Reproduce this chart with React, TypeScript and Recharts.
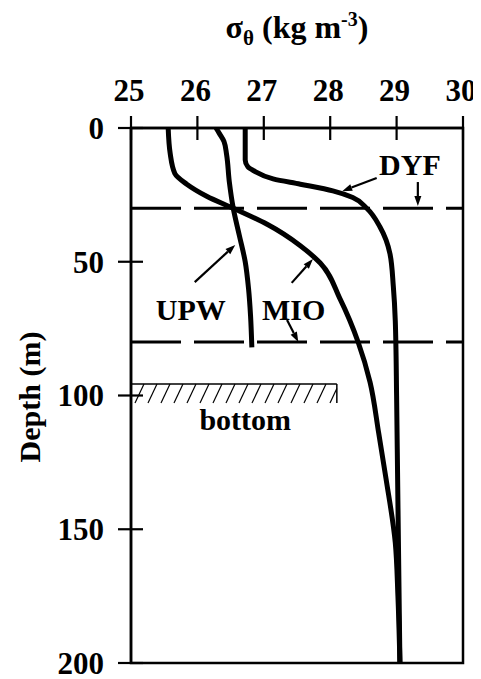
import React from 'react';
import { LineChart, Line, XAxis, YAxis, ReferenceLine, ReferenceArea, ReferenceDot, Label } from 'recharts';

const xTicks = [25, 26, 27, 28, 29, 30];
const yTicks = [0, 50, 100, 150, 200];

const mioDepth = [0, 9.5, 17, 21, 25.5, 30, 36, 44, 50.5, 64, 80, 95, 114, 131, 155, 175, 200];
const mioSigma = [25.56, 25.59, 25.66, 25.84, 26.14, 26.54, 27.05, 27.55, 27.85, 28.15, 28.42, 28.6, 28.73, 28.84, 28.98, 29.02, 29.05];

const upwDepth = [0, 2, 5, 10, 20, 30, 40, 50, 60, 70, 82];
const upwSigma = [26.28, 26.33, 26.4, 26.44, 26.48, 26.54, 26.63, 26.72, 26.77, 26.8, 26.82];

const dyfDepth = [0, 12, 14.5, 16, 19, 21, 23.5, 26, 30, 37, 47, 59, 72, 100, 120, 200];
const dyfSigma = [26.72, 26.72, 26.76, 26.85, 27.14, 27.55, 28.04, 28.34, 28.55, 28.75, 28.9, 28.95, 28.98, 29.0, 29.01, 29.05];

const layerDepths = [30, 80];
const bottomBox = { x1: 25, x2: 28.1, y1: 95.7, y2: 102.8 };

const arrowFrom = [[28.7, 18.7], [29.32, 20.2], [25.96, 57.6], [27.42, 57.9], [27.35, 71.8]];
const arrowTo = [[28.18, 23.6], [29.32, 29.2], [26.57, 43.7], [27.74, 49.0], [27.52, 80]];

const labelTexts = ['DYF', 'UPW', 'MIO', 'bottom'];
const labelSigma = [29.2, 25.9, 27.45, 26.72];
const labelDepth = [17.6, 71.8, 71.8, 112.9];

const toPoints = (d: number[], s: number[]) => d.map((depth, i) => ({ depth, sigma: s[i] }));
const mio = toPoints(mioDepth, mioSigma);
const upw = toPoints(upwDepth, upwSigma);
const dyf = toPoints(dyfDepth, dyfSigma);

const FONT = '"Liberation Serif", "Times New Roman", serif';
const PLOT_TOP = 120;
const PLOT_LEFT = 123;

const TopTick = (props: any) => {
  const { x, payload } = props;
  return (
    <g>
      <line x1={x} x2={x} y1={PLOT_TOP - 12} y2={PLOT_TOP + 12} stroke="#000" strokeWidth={2.2} />
      <text x={x - 2} y={PLOT_TOP - 27} textAnchor="middle" fontFamily={FONT} fontWeight="bold" fontSize={31} fill="#000">
        {payload.value}
      </text>
    </g>
  );
};

const LeftTick = (props: any) => {
  const { y, payload } = props;
  return (
    <g>
      <line x1={PLOT_LEFT - 13} x2={PLOT_LEFT + 12} y1={y} y2={y} stroke="#000" strokeWidth={2.2} />
      <text x={PLOT_LEFT - 27} y={y} dy="0.35em" textAnchor="end" fontFamily={FONT} fontWeight="bold" fontSize={31} fill="#000">
        {payload.value}
      </text>
    </g>
  );
};

const ArrowShape = (p: any) => {
  const { x1, y1, x2, y2 } = p;
  const ang = Math.atan2(y2 - y1, x2 - x1);
  const L = 10;
  const W = 3.5;
  const bx = x2 - L * Math.cos(ang);
  const by = y2 - L * Math.sin(ang);
  const px = -Math.sin(ang) * W;
  const py = Math.cos(ang) * W;
  return (
    <g>
      <line x1={x1} y1={y1} x2={bx} y2={by} stroke="#000" strokeWidth={2.2} />
      <polygon points={`${x2},${y2} ${bx + px},${by + py} ${bx - px},${by - py}`} fill="#000" />
    </g>
  );
};

const HatchShape = (p: any) => {
  const { x, y, width, height } = p;
  const lines = [];
  const step = 13;
  const slant = 9;
  for (let i = x + 4; i < x + width; i += step) {
    let ex = i + slant;
    let ey = y;
    if (ex > x + width) {
      const t = (x + width - i) / slant;
      ex = x + width;
      ey = y + height - t * height;
    }
    lines.push(<line key={i} x1={i} y1={y + height} x2={ex} y2={ey} stroke="#000" strokeWidth={1.2} />);
  }
  return (
    <g>
      {lines}
      <line x1={x} x2={x + width} y1={y} y2={y} stroke="#000" strokeWidth={1.5} />
      <line x1={x + width} x2={x + width} y1={y} y2={y + height} stroke="#000" strokeWidth={1.5} />
    </g>
  );
};

const TextShape = (text: string) => (p: any) => (
  <text x={p.cx} y={p.cy} textAnchor="middle" fontFamily={FONT} fontWeight="bold" fontSize={30} fill="#000">
    {text}
  </text>
);

const TitleLabel = () => {
  const cx = PLOT_LEFT + 166;
  return (
    <text x={cx} y={30} textAnchor="middle" fontFamily={FONT} fontWeight="bold" fontSize={32} fill="#000">
      <tspan>σ</tspan>
      <tspan fontSize={21} dy={7}>θ</tspan>
      <tspan dy={-7}> (kg m</tspan>
      <tspan fontSize={20} dy={-12}>-3</tspan>
      <tspan dy={12}>)</tspan>
    </text>
  );
};

const DepthLabel = () => (
  <text
    x={21}
    y={389}
    transform="rotate(-90 21 389)"
    textAnchor="middle"
    dominantBaseline="central"
    fontFamily={FONT}
    fontWeight="bold"
    fontSize={30}
    fill="#000"
  >
    Depth (m)
  </text>
);

export default function App() {
  return (
    <div style={{ width: 473, height: 671 }}>
      <LineChart
        width={473}
        height={671}
        layout="vertical"
        margin={{ top: 60, right: 18, bottom: 16, left: 53 }}
        style={{ background: '#fff' }}
      >
        <XAxis
          type="number"
          dataKey="sigma"
          orientation="top"
          domain={[25, 30]}
          ticks={xTicks}
          height={60}
          axisLine={{ stroke: '#000', strokeWidth: 2.5 }}
          tickLine={false}
          tick={<TopTick />}
          allowDataOverflow
        >
          <Label content={<TitleLabel />} />
        </XAxis>
        <YAxis
          type="number"
          dataKey="depth"
          domain={[0, 200]}
          ticks={yTicks}
          width={70}
          axisLine={{ stroke: '#000', strokeWidth: 2.5 }}
          tickLine={false}
          tick={<LeftTick />}
          allowDataOverflow
        >
          <Label content={<DepthLabel />} />
        </YAxis>
        <ReferenceArea x1={25} x2={30} y1={0} y2={200} fill="none" stroke="#000" strokeWidth={2.5} ifOverflow="visible" />
        <ReferenceArea
          x1={bottomBox.x1}
          x2={bottomBox.x2}
          y1={bottomBox.y1}
          y2={bottomBox.y2}
          shape={HatchShape}
          ifOverflow="visible"
        />
        {layerDepths.map((d) => (
          <ReferenceLine key={d} y={d} stroke="#000" strokeWidth={3} strokeDasharray="50 13" ifOverflow="visible" />
        ))}
        <Line data={mio} dataKey="sigma" type="monotoneY" stroke="#000" strokeWidth={5} dot={false} isAnimationActive={false} />
        <Line data={upw} dataKey="sigma" type="monotoneY" stroke="#000" strokeWidth={5} dot={false} isAnimationActive={false} />
        <Line data={dyf} dataKey="sigma" type="monotoneY" stroke="#000" strokeWidth={5} dot={false} isAnimationActive={false} />
        {arrowFrom.map((f, i) => (
          <ReferenceLine
            key={'a' + i}
            segment={[{ x: f[0], y: f[1] }, { x: arrowTo[i][0], y: arrowTo[i][1] }]}
            shape={ArrowShape}
            ifOverflow="visible"
          />
        ))}
        {labelTexts.map((t, i) => (
          <ReferenceDot
            key={t}
            x={labelSigma[i]}
            y={labelDepth[i]}
            r={0}
            shape={TextShape(t)}
            ifOverflow="visible"
          />
        ))}
      </LineChart>
    </div>
  );
}
